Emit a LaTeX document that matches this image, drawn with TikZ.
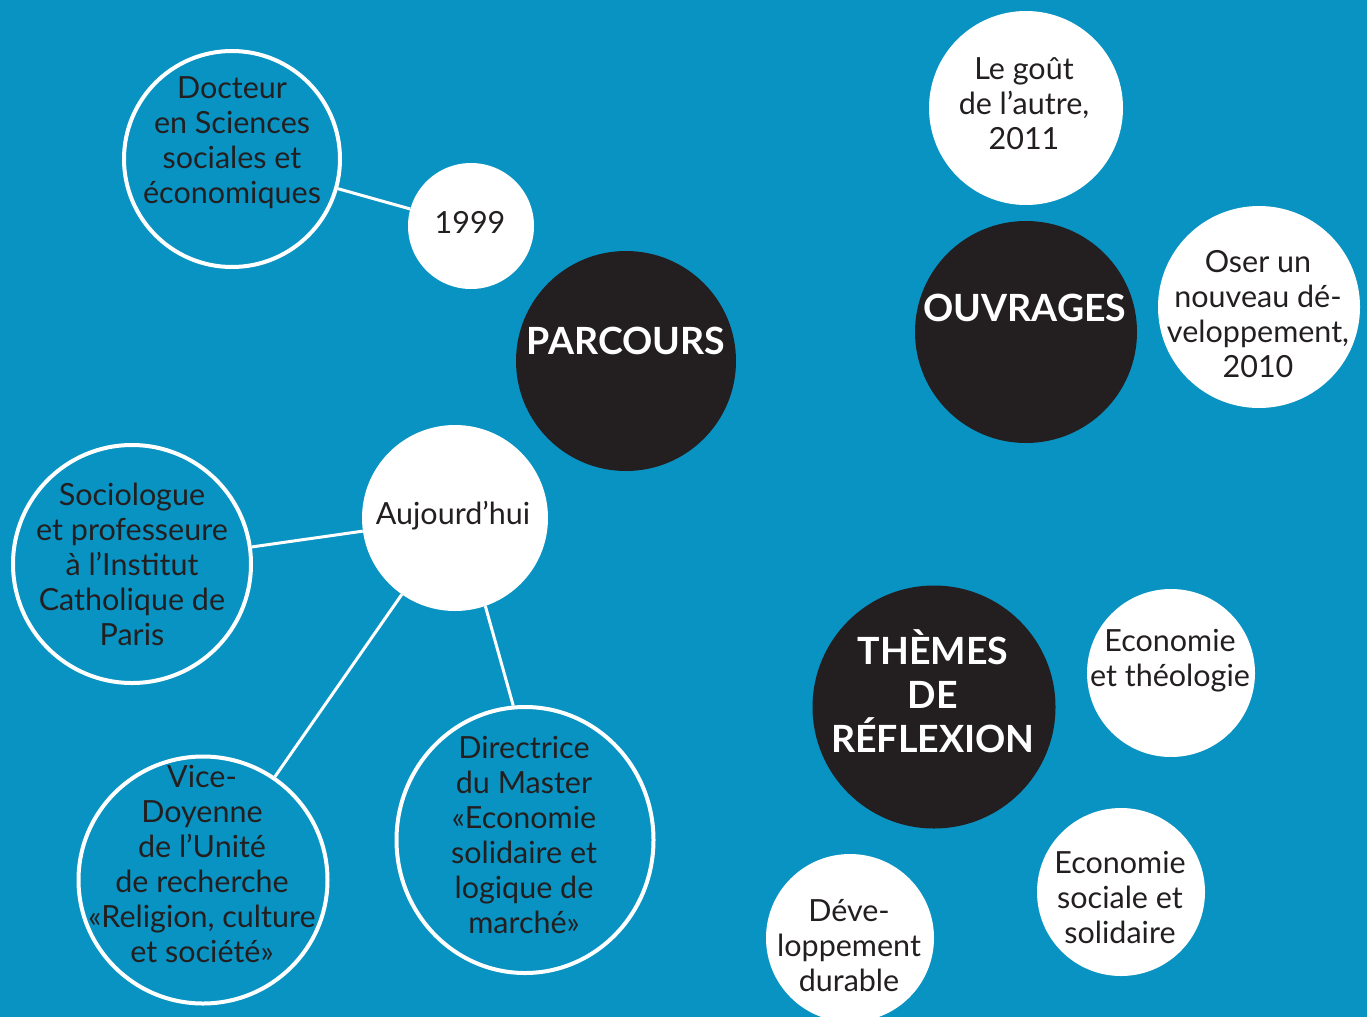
\documentclass[tikz,border=0pt]{standalone}
\usepackage{fontspec}
\setmainfont{Lato}
\usetikzlibrary{shapes.geometric}

\definecolor{bgblue}{RGB}{8,147,194}
\definecolor{inkdark}{RGB}{35,31,32}

\tikzset{
  hub/.style={circle, fill=inkdark, minimum size=#1, inner sep=0pt},
  leaf/.style={circle, fill=white, minimum size=#1, inner sep=0pt},
  ring/.style={circle, draw=white, line width=4pt, minimum size=#1, inner sep=0pt},
  oval/.style={ellipse, draw=white, line width=4pt, inner sep=0pt},
  txt/.style={align=center, text=inkdark, inner sep=0pt,
    font=\fontsize{30.5}{35}\selectfont},
  title/.style={align=center, text=white, inner sep=0pt,
    font=\bfseries\fontsize{37.5}{44}\selectfont},
  link/.style={draw=white, line width=3pt},
}

\begin{document}
\begin{tikzpicture}[x=1pt,y=-1pt]
      \fill[bgblue] (0,0) rectangle (1367,1017);
      \useasboundingbox (0,0) rectangle (1367,1017);

      % parcours
      \node[ring=216pt] (docteur) at (232,159) {};
      \node[leaf=126pt] (annee) at (471,226) {};
      \node[hub=220pt] (parcours) at (626,361) {};
      \node[leaf=186pt] (aujourdhui) at (455,518) {};
      \node[ring=238pt] (sociologue) at (132,564) {};
      \node[oval, minimum width=249pt, minimum height=247pt] (vice) at (203,880) {};
      \node[oval, minimum width=257pt, minimum height=266pt] (directrice) at (525,840) {};

      \draw[link] (docteur) -- (annee);
      \draw[link] (aujourdhui) -- (sociologue);
      \draw[link] (aujourdhui) -- (vice);
      \draw[link] (aujourdhui.-71) -- (directrice.95);

      \node[txt] (docteur-t) at (232,143) {Docteur\\en Sciences\\sociales et\\économiques};
      \node[txt] (annee-t) at (470,222) {1999};
      \node[title] (parcours-t) at (626,341) {PARCOURS};
      \node[txt] (aujourdhui-t) at (453,516) {Aujourd’hui};
      \node[txt] (sociologue-t) at (132,564) {Sociologue\\et professeure\\à l’Institut\\Catholique de\\Paris};
      \node[txt] (vice-t) at (202,864) {Vice-\\Doyenne\\de l'Unité\\de recherche\\«Religion, culture\\et société»};
      \node[txt] (directrice-t) at (524,835) {Directrice\\du Master\\«Economie\\solidaire et\\logique de\\marché»};

      % ouvrages
      \node[leaf=194pt] (gout) at (1026,108) {};
      \node[hub=222pt] (ouvrages) at (1026,332) {};
      \node[leaf=202pt] (oser) at (1259,307) {};

      \node[txt] (gout-t) at (1024,104) {Le goût\\de l’autre,\\2011};
      \node[title] (ouvrages-t) at (1025,308) {OUVRAGES};
      \node[txt] (oser-t) at (1258,314) {Oser un\\nouveau dé-\\veloppement,\\2010};

      % themes
      \node[hub=243pt] (themes) at (934,707) {};
      \node[leaf=168pt] (theologie) at (1171,673) {};
      \node[leaf=168pt] (sociale) at (1121,892) {};
      \node[leaf=168pt] (durable) at (850,938) {};

      \node[title] (themes-t) at (933,691) {THÈMES\\DE\\RÉFLEXION};
      \node[txt] (theologie-t) at (1170,661) {Economie\\et théologie};
      \node[txt] (sociale-t) at (1120,897) {Economie\\sociale et\\solidaire};
      \node[txt] (durable-t) at (849,946) {Déve-\\loppement\\durable};
\end{tikzpicture}
\end{document}
